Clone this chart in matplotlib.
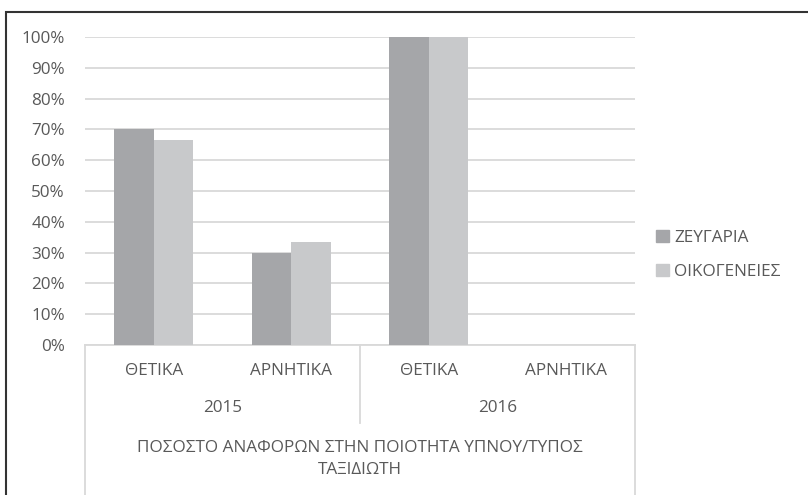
"""
Greek grouped bar chart with two-level category axis
"""
import matplotlib.pyplot as plt
from matplotlib.lines import Line2D
from matplotlib.patches import Rectangle, Patch

# data
categories = ['ΘΕΤΙΚΑ', 'ΑΡΝΗΤΙΚΑ', 'ΘΕΤΙΚΑ', 'ΑΡΝΗΤΙΚΑ']
years = ['2015', '2016']
series_names = ['ΖΕΥΓΑΡΙΑ', 'ΟΙΚΟΓΕΝΕΙΕΣ']
couples = [0.70, 0.30, 1.00, 0.0]
families = [0.667, 0.333, 1.00, 0.0]
yticks = [0, 0.1, 0.2, 0.3, 0.4, 0.5, 0.6, 0.7, 0.8, 0.9, 1.0]
ytick_labels = ['0%', '10%', '20%', '30%', '40%', '50%', '60%', '70%', '80%', '90%', '100%']
axis_title = 'ΠΟΣΟΣΤΟ ΑΝΑΦΟΡΩΝ ΣΤΗΝ ΠΟΙΟΤΗΤΑ ΥΠΝΟΥ/ΤΥΠΟΣ\nΤΑΞΙΔΙΩΤΗ'

plt.rcParams['font.family'] = ['Open Sans', 'DejaVu Sans']
text_color = '#595959'
grid_color = '#d9d9d9'
colors = ['#a5a6a9', '#c8c9cb']
fs = 12.3

W, H = 808, 495
fig = plt.figure(figsize=(W / 100, H / 100), dpi=100)

# outer chart border (cropped at right and bottom)
fig.patches.append(Rectangle((6 / W, -0.1), 1.2, (H - 12) / H + 0.1, transform=fig.transFigure,
                             fill=False, edgecolor='#333333', linewidth=1.5))

ax = fig.add_axes([85 / W, 150 / H, 550 / W, 308 / H])
x = list(range(len(categories)))
bw = 0.288
ax.bar([i - bw / 2 for i in x], couples, width=bw, color=colors[0], zorder=3)
ax.bar([i + bw / 2 for i in x], families, width=bw, color=colors[1], zorder=3)

ax.set_xlim(-0.5, 3.5)
ax.set_ylim(0, 1)
ax.set_yticks(yticks)
ax.set_yticklabels(ytick_labels)
ax.tick_params(axis='y', length=0, pad=14.4, labelsize=fs, labelcolor=text_color)
ax.set_xticks([])
ax.grid(axis='y', color=grid_color, linewidth=1.3, zorder=0)
for s in ['top', 'right', 'left']:
    ax.spines[s].set_visible(False)
ax.spines['bottom'].set_color(grid_color)
ax.spines['bottom'].set_linewidth(1.3)

# two-level category labels
for i, c in enumerate(categories):
    fig.text((85 + 137.5 * (i + 0.5)) / W, (H - 371) / H, c, ha='center', va='center',
             fontsize=fs, color=text_color)
for j, yr in enumerate(years):
    fig.text((85 + 275 * (j + 0.5)) / W, (H - 408) / H, yr, ha='center', va='center',
             fontsize=fs, color=text_color)
fig.text(360 / W, (H - 459) / H, axis_title, ha='center', va='center', fontsize=fs,
         color=text_color, linespacing=1.5)

# divider lines of the category axis
for px, bottom in [(85, 495), (360, 423), (635, 495)]:
    fig.add_artist(Line2D([px / W, px / W], [(H - 345) / H, (H - bottom) / H],
                          transform=fig.transFigure, color=grid_color, linewidth=1.3))

handles = [Patch(color=colors[0]), Patch(color=colors[1])]
fig.legend(handles, series_names, loc='center left', bbox_to_anchor=(641 / W, (H - 255) / H),
           frameon=False, fontsize=fs, labelcolor=text_color, handlelength=0.75,
           handleheight=0.75, handletextpad=0.3, labelspacing=1.05)

fig.savefig('out.png', dpi=100)
